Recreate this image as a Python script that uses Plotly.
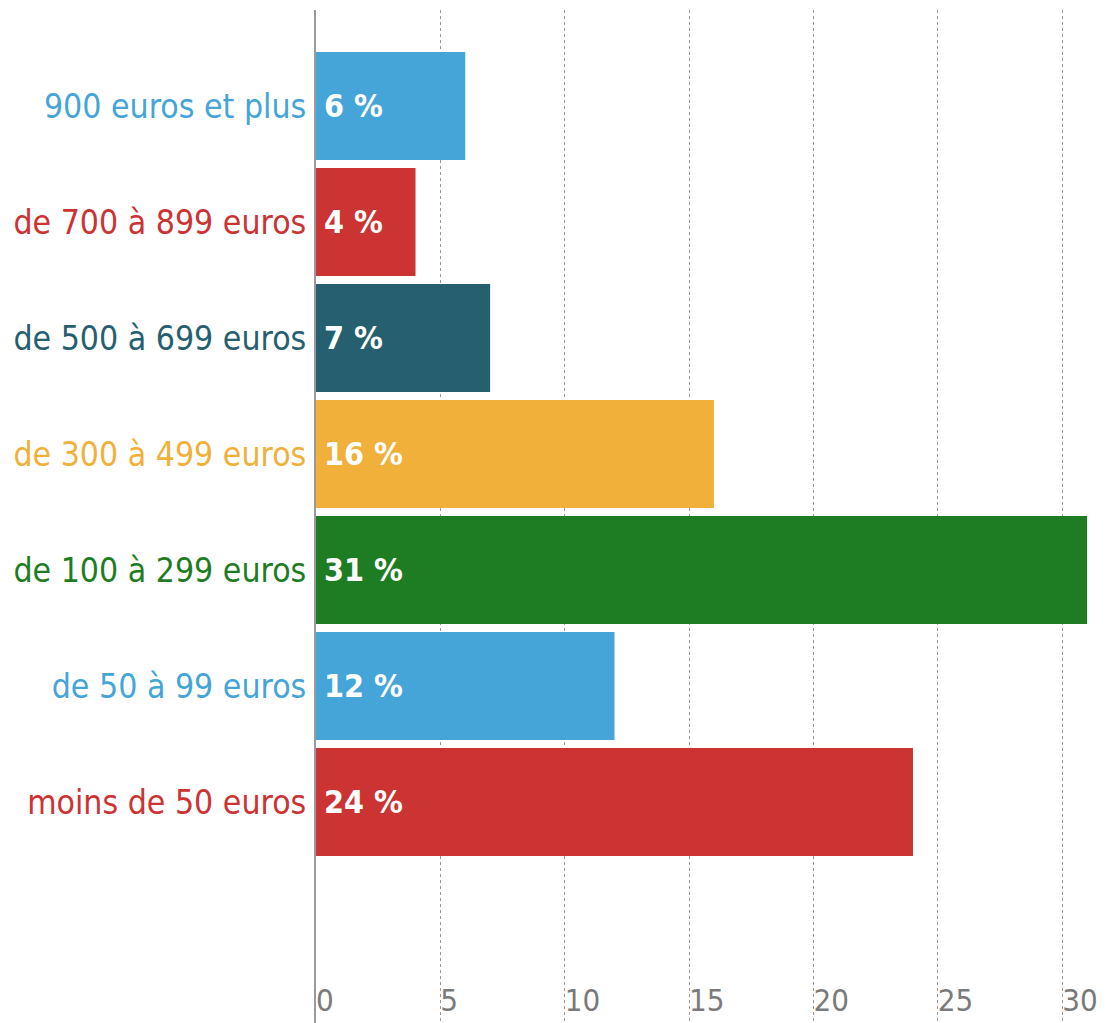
import plotly.graph_objects as go

# Spending brackets (bottom to top) and share of respondents, in percent
categories = [
    "moins de 50 euros",
    "de 50 à 99 euros",
    "de 100 à 299 euros",
    "de 300 à 499 euros",
    "de 500 à 699 euros",
    "de 700 à 899 euros",
    "900 euros et plus",
]
shares = [24, 12, 31, 16, 7, 4, 6]
colors = ["#CC3333", "#45A5D8", "#1E7D23", "#F0B03A", "#266070", "#CC3333", "#45A5D8"]
x_ticks = [0, 5, 10, 15, 20, 25, 30]

FONT = "DejaVu Sans Condensed, Liberation Sans Narrow, sans-serif"

fig = go.Figure(
    go.Bar(
        x=shares,
        y=list(range(len(categories))),
        orientation="h",
        marker=dict(color=colors, line=dict(width=0)),
        hoverinfo="skip",
    )
)

# Value labels at the start of each bar
for i, v in enumerate(shares):
    fig.add_annotation(
        x=0, y=i, xref="x", yref="y",
        text=f"{v} %",
        showarrow=False,
        xanchor="left", yanchor="middle",
        xshift=6,
        font=dict(family=FONT, size=32, color="white", weight="bold"),
    )

ticktext = [
    f'<span style="color:{c}">{name}</span>' for name, c in zip(categories, colors)
]

fig.update_layout(
    width=1107,
    height=1023,
    margin=dict(l=316, r=0, t=10, b=0),
    paper_bgcolor="white",
    plot_bgcolor="white",
    bargap=0.069,
    showlegend=False,
    xaxis=dict(
        range=[0, 31.8],
        tickvals=x_ticks,
        ticktext=[str(t) for t in x_ticks],
        ticklabelposition="inside right",
        showgrid=True,
        gridcolor="#999999",
        gridwidth=1,
        griddash="dot",
        zeroline=False,
        showline=False,
        ticks="",
        automargin=False,
        tickfont=dict(family=FONT, size=31, color="#7A7A7A"),
        fixedrange=True,
    ),
    yaxis=dict(
        range=[-1.905, 6.828],
        tickvals=list(range(len(categories))),
        ticktext=ticktext,
        showgrid=False,
        zeroline=False,
        showline=True,
        linecolor="#9A9A9A",
        linewidth=2,
        ticks="",
        ticklabelstandoff=1,
        automargin=False,
        tickfont=dict(family=FONT, size=33.5),
        fixedrange=True,
    ),
)

fig.write_html("out.html")
